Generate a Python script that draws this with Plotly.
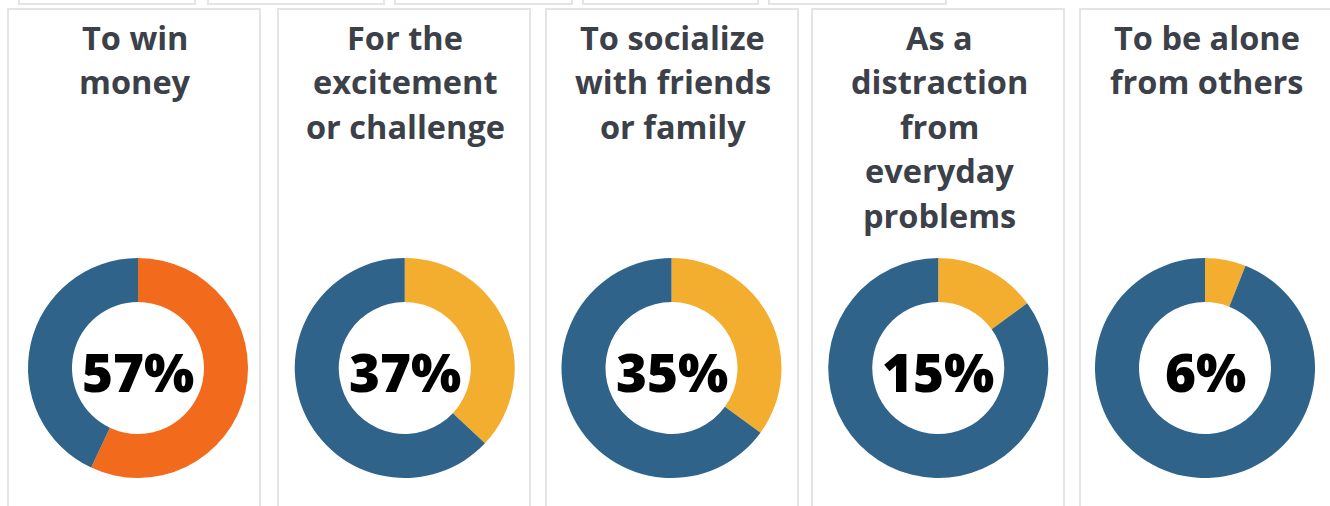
import plotly.graph_objects as go

# Survey reasons and share of respondents (%)
reasons = [
    ["To win", "money"],
    ["For the", "excitement", "or challenge"],
    ["To socialize", "with friends", "or family"],
    ["As a", "distraction", "from", "everyday", "problems"],
    ["To be alone", "from others"],
]
shares = [57, 37, 35, 15, 6]
accent_colors = ["#f26a1c", "#f3ae2f", "#f3ae2f", "#f3ae2f", "#f3ae2f"]
rest_color = "#2f6389"

W, H = 1330, 506


def px(x):
    return x / W


def py(y):
    return 1 - y / H


fig = go.Figure()

panel_left = [8, 278, 546, 812, 1080]
panel_w = 252
donut_cx = [138, 404.75, 671.5, 938.25, 1205]
donut_cy = 368
donut_r = 110

shapes = []
# panel frames
for x0 in panel_left:
    shapes.append(dict(type="rect", xref="paper", yref="paper",
                       x0=px(x0), x1=px(x0 + panel_w), y0=py(520), y1=py(9),
                       line=dict(color="#e4e4e4", width=2), fillcolor="rgba(0,0,0,0)",
                       layer="below"))
# partial frames of the row above
for a, b in [(19, 195), (208, 384), (395, 572), (583, 758), (769, 946)]:
    shapes.append(dict(type="rect", xref="paper", yref="paper",
                       x0=px(a), x1=px(b), y0=py(4), y1=py(-20),
                       line=dict(color="#e4e4e4", width=2), fillcolor="rgba(0,0,0,0)",
                       layer="below"))

annotations = []
for i, (lines, v) in enumerate(zip(reasons, shares)):
    fig.add_trace(go.Pie(
        values=[v, 100 - v],
        marker=dict(colors=[accent_colors[i], rest_color], line=dict(width=0)),
        hole=0.6, sort=False, direction="clockwise", rotation=0,
        textinfo="none", hoverinfo="skip", showlegend=False,
        domain=dict(x=[px(donut_cx[i] - donut_r), px(donut_cx[i] + donut_r)],
                    y=[py(donut_cy + donut_r), py(donut_cy - donut_r)]),
    ))
    annotations.append(dict(
        text=f"{v}%", x=px(donut_cx[i]), y=py(371), xref="paper", yref="paper",
        xanchor="center", yanchor="middle", showarrow=False,
        font=dict(family="Open Sans", size=53, color="#000000", weight=800),
    ))
    cx = panel_left[i] + panel_w / 2
    for j, line in enumerate(lines):
        annotations.append(dict(
            text=line, x=px(cx + 1), y=py(37 + 44.5 * j), xref="paper", yref="paper",
            xanchor="center", yanchor="middle", showarrow=False,
            font=dict(family="Open Sans", size=32.5, color="#3c4048", weight=700),
        ))

fig.update_layout(
    width=W, height=H, margin=dict(l=0, r=0, t=0, b=0),
    paper_bgcolor="white", plot_bgcolor="white",
    shapes=shapes, annotations=annotations,
)

fig.write_html("out.html")
